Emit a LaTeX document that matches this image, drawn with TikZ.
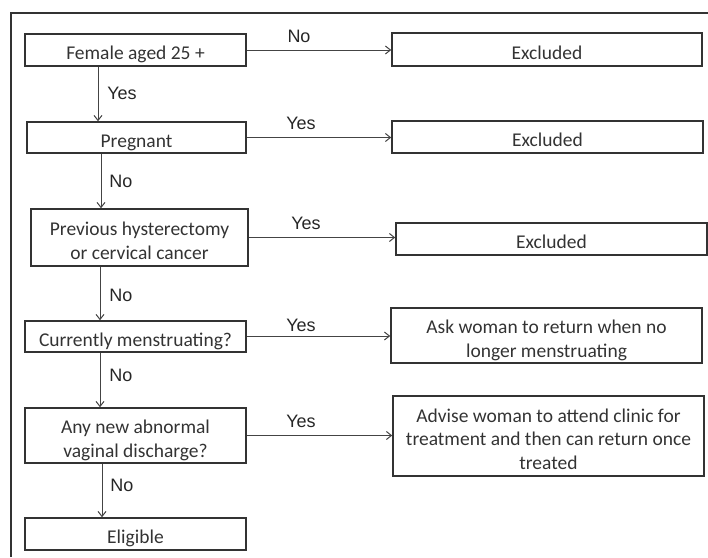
\documentclass[tikz,border=0pt]{standalone}
\usepackage{fontspec}
\setmainfont{Carlito}
\newfontfamily\labelfont{Liberation Sans}
\usetikzlibrary{arrows.meta}
\definecolor{ink}{HTML}{333333}
\definecolor{lineink}{HTML}{444444}
\begin{document}
\begin{tikzpicture}[x=1pt,y=-1pt,
  box/.style={draw=ink,line width=1.6pt,text=ink,align=center,inner sep=0pt,
    text height=19.5pt,text depth=0pt,
    font=\fontsize{19.5}{23.5}\selectfont},
  twolines/.style={text height=43pt},
  threelines/.style={text height=66pt},
  arr/.style={draw=lineink,line width=1pt,-{Straight Barb[length=5pt,width=8pt,line width=1pt]}},
  lbl/.style={text=black!85,inner sep=0pt,font=\labelfont\fontsize{18}{20}\selectfont}]
\useasboundingbox (0,0) rectangle (708,557);
% frame
\draw[ink,line width=1.5pt] (11,557) -- (11,13) -- (708,13);
% left column
\node[box,minimum width=221pt,minimum height=32pt] (b1) at (135.5,50) {Female aged 25 +};
\node[box,minimum width=219pt,minimum height=31pt] (b2) at (136.5,137.5) {Pregnant};
\node[box,twolines,minimum width=217pt,minimum height=57pt] (b3) at (139.5,237.5) {Previous hysterectomy\\or cervical cancer};
\node[box,minimum width=221pt,minimum height=31pt] (b4) at (135.5,336.5) {Currently menstruating?};
\node[box,twolines,minimum width=221pt,minimum height=55pt] (b5) at (135.5,435.5) {Any new abnormal\\vaginal discharge?};
\node[box,minimum width=221pt,minimum height=32pt] (b6) at (135.5,534) {Eligible};
% right column
\node[box,minimum width=310pt,minimum height=33pt] (e1) at (547,49.5) {Excluded};
\node[box,minimum width=311pt,minimum height=32pt] (e2) at (547.5,137) {Excluded};
\node[box,minimum width=311pt,minimum height=32pt] (e3) at (551.5,239) {Excluded};
\node[box,twolines,minimum width=311pt,minimum height=55pt] (r4) at (546.5,335.5) {Ask woman to return when no\\longer menstruating};
\node[box,threelines,minimum width=311pt,minimum height=80pt] (r5) at (548.5,436) {Advise woman to attend clinic for\\treatment and then can return once\\treated};
% vertical arrows
\draw[arr] ([xshift=-37.5pt]b1.south) -- ([xshift=-37.5pt]b1.south |- b2.north);
\draw[arr] ([xshift=-35.5pt]b2.south) -- ([xshift=-35.5pt]b2.south |- b3.north);
\draw[arr] ([xshift=-39.5pt]b3.south) -- ([xshift=-39.5pt]b3.south |- b4.north);
\draw[arr] ([xshift=-35.5pt]b4.south) -- ([xshift=-35.5pt]b4.south |- b5.north);
\draw[arr] ([xshift=-33.5pt]b5.south) -- ([xshift=-33.5pt]b5.south |- b6.north);
% horizontal arrows
\draw[arr] (b1.east) -- (b1.east -| e1.west);
\draw[arr] (b2.east) -- (b2.east -| e2.west);
\draw[arr] (b3.east) -- (b3.east -| e3.west);
\draw[arr] ([yshift=0.5pt]b4.east) -- ([yshift=0.5pt]b4.east -| r4.west);
\draw[arr] (b5.east) -- (b5.east -| r5.west);
% labels
\node[lbl] (l1) at (122,93) {Yes};
\node[lbl] (l2) at (121,181) {No};
\node[lbl] (l3) at (121,295) {No};
\node[lbl] (l4) at (121,375) {No};
\node[lbl] (l5) at (122,485) {No};
\node[lbl] (h1) at (299,36) {No};
\node[lbl] (h2) at (301,123.5) {Yes};
\node[lbl] (h3) at (306,223.5) {Yes};
\node[lbl] (h4) at (301,325) {Yes};
\node[lbl] (h5) at (301,421.5) {Yes};
\end{tikzpicture}
\end{document}
